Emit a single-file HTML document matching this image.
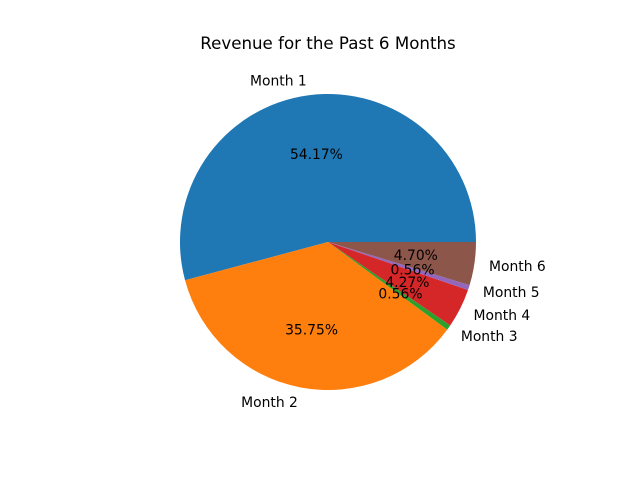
<!DOCTYPE html>
<html><head><meta charset="utf-8"><style>
body{margin:0;background:#fff}
svg{display:block;font-family:"DejaVu Sans","Liberation Sans",sans-serif}
</style></head><body>
<svg id="chart" width="640" height="480" viewBox="0 0 640 480">
<rect width="640" height="480" fill="#fff"/>
<text x="328" y="49" text-anchor="middle" font-size="16.67" fill="#000">Revenue for the Past 6 Months</text>
<g id="slices"></g>
<g id="labels"></g>
</svg>
<script>
const categories = ["Month 1","Month 2","Month 3","Month 4","Month 5","Month 6"];
const values = [54.17, 35.75, 0.56, 4.27, 0.56, 4.70];
const colors = ["#1f77b4","#ff7f0e","#2ca02c","#d62728","#9467bd","#8c564b"];
const cx = 328, cy = 242, r = 148;
const g = document.getElementById('slices');
const gl = document.getElementById('labels');
const NS = 'http://www.w3.org/2000/svg';
const total = values.reduce((a,b)=>a+b,0);
function pt(a, rad){ return [cx + rad*Math.cos(a), cy - rad*Math.sin(a)]; }
let start = 0;
values.forEach((v,i)=>{
  const sweep = v/total*2*Math.PI;
  const end = start + sweep;
  const [x1,y1] = pt(start,r), [x2,y2] = pt(end,r);
  const large = sweep > Math.PI ? 1 : 0;
  const p = document.createElementNS(NS,'path');
  p.setAttribute('d',`M${cx},${cy} L${x1},${y1} A${r},${r} 0 ${large} 0 ${x2},${y2} Z`);
  p.setAttribute('fill',colors[i]);
  
  
  g.appendChild(p);
  const mid = start + sweep/2;
  const [lx,ly] = pt(mid, r*1.1);
  const t = document.createElementNS(NS,'text');
  t.setAttribute('x',lx); t.setAttribute('y',ly+5);
  t.setAttribute('font-size','13.89');
  t.setAttribute('text-anchor', Math.cos(mid) >= 0 ? 'start' : 'end');
  t.textContent = categories[i];
  
  
  gl.appendChild(t);
  const [px,py] = pt(mid, r*0.6);
  const pc = document.createElementNS(NS,'text');
  pc.setAttribute('x',px); pc.setAttribute('y',py+5);
  pc.setAttribute('font-size','13.89');
  pc.setAttribute('text-anchor','middle');
  pc.textContent = v.toFixed(2) + '%';
  
  
  gl.appendChild(pc);
  start = end;
});
</script>
</body></html>
